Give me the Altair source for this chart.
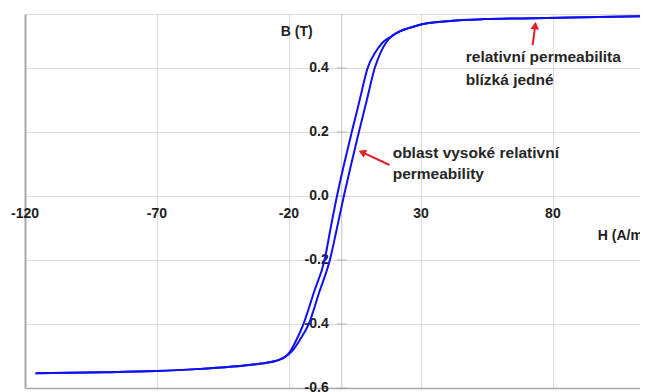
import altair as alt
import pandas as pd

# Hysteresis loop: descending (upper/left) branch and ascending (lower/right) branch
H_desc = [-116, -90, -70.5, -55, -41.3, -35, -28.4, -24, -21.5, -19.5, -17.2, -14.5, -10.5, -6.5,
          -4.2, -1.8, 0.9, 3.8, 6.8, 9.8, 12.8, 15.5, 19, 22, 25, 29, 41, 54, 73, 92, 116]
B_desc = [-0.554, -0.551, -0.547, -0.541, -0.533, -0.528, -0.521, -0.513, -0.503, -0.485, -0.45, -0.40,
          -0.30, -0.20, -0.10, 0.0, 0.10, 0.20, 0.30, 0.40, 0.45, 0.48, 0.50, 0.515, 0.524, 0.534,
          0.547, 0.553, 0.556, 0.559, 0.5625]
H_asc = [-116, -90, -70.5, -55, -41.3, -35, -28.4, -24, -21.5, -18.8, -15.9, -12.5, -8.5, -4.5,
         -1.8, 0.8, 3.6, 6.5, 9.5, 12.5, 14.8, 16.8, 19, 22, 25, 29, 41, 54, 73, 92, 116]
B_asc = [-0.554, -0.551, -0.547, -0.541, -0.533, -0.528, -0.521, -0.513, -0.503, -0.485, -0.45, -0.40,
         -0.30, -0.20, -0.10, 0.0, 0.10, 0.20, 0.30, 0.40, 0.45, 0.48, 0.50, 0.515, 0.524, 0.534,
         0.547, 0.553, 0.556, 0.559, 0.5625]

x_ticks = [-120, -70, -20, 30, 80]
y_ticks = [-0.6, -0.4, -0.2, 0.0, 0.2, 0.4]
y_labels = ["-0.6", "-0.4", "-0.2", "0.0", "0.2", "0.4"]

x_domain = [-120, 113]
y_domain = [-0.6, 0.569]

# annotations
note_text = ["relativní permeabilita", "blízká jedné", "oblast vysoké relativní", "permeability"]
note_H = [47.0, 47.0, 19.3, 19.3]
note_B = [0.434, 0.3625, 0.134, 0.069]

arrow_H = [72.3, 18.1]
arrow_B = [0.472, 0.097]
arrow_H2 = [73.3, 7.7]
arrow_B2 = [0.533, 0.137]
arrow_angle = [7, 295]

FONT = "Liberation Sans"
TXT = "#1e1e1e"

curve = pd.DataFrame({
    "H": H_desc + H_asc,
    "B": B_desc + B_asc,
    "branch": ["desc"] * len(H_desc) + ["asc"] * len(H_asc),
})
xs = alt.Scale(domain=x_domain, nice=False, zero=False)
ys = alt.Scale(domain=y_domain, nice=False, zero=False)

grid = alt.Chart(curve).mark_line(opacity=0).encode(
    x=alt.X("H:Q", scale=xs, axis=alt.Axis(values=x_ticks, grid=True, gridColor="#dddddd",
                                           labels=False, ticks=False, title=None,
                                           domainColor="#a8a8a8", domainWidth=1.5)),
    y=alt.Y("B:Q", scale=ys, axis=alt.Axis(values=y_ticks, grid=True, gridColor="#dddddd",
                                           labels=False, ticks=False, title=None,
                                           domainColor="#a8a8a8", domainWidth=2)),
    detail="branch:N",
)

yaxis_line = alt.Chart(pd.DataFrame({"H": [0]})).mark_rule(color="#c4c4c4", strokeWidth=1).encode(
    x=alt.X("H:Q", scale=xs)
)

ytick_df = pd.DataFrame({"H": [0] * len(y_ticks), "B": y_ticks, "label": y_labels})
yticks = alt.Chart(ytick_df).mark_tick(orient="horizontal", size=10, color="#a0a0a0", thickness=1).encode(
    x=alt.X("H:Q", scale=xs), y=alt.Y("B:Q", scale=ys)
)
ylab = alt.Chart(ytick_df).mark_text(align="right", baseline="middle", dx=-13, font=FONT,
                                     fontWeight="bold", fontSize=14, color=TXT).encode(
    x=alt.X("H:Q", scale=xs), y=alt.Y("B:Q", scale=ys), text="label:N"
)

xtick_df = pd.DataFrame({"H": x_ticks, "B": [0.0] * len(x_ticks), "label": [str(v) for v in x_ticks]})
xlab = alt.Chart(xtick_df).mark_text(align="center", baseline="middle", dy=18, font=FONT,
                                     fontWeight="bold", fontSize=14, color=TXT).encode(
    x=alt.X("H:Q", scale=xs), y=alt.Y("B:Q", scale=ys), text="label:N"
)

titles_df = pd.DataFrame({"H": [-11.0, 97.0], "B": [0.5125, -0.125], "label": ["B (T)", "H (A/m)"]})
ttl_b = alt.Chart(titles_df.iloc[[0]]).mark_text(align="right", baseline="middle", font=FONT,
                                                 fontWeight="bold", fontSize=14, color=TXT).encode(
    x=alt.X("H:Q", scale=xs), y=alt.Y("B:Q", scale=ys), text="label:N"
)
ttl_h = alt.Chart(titles_df.iloc[[1]]).mark_text(align="left", baseline="middle", font=FONT,
                                                 fontWeight="bold", fontSize=14, color=TXT).encode(
    x=alt.X("H:Q", scale=xs), y=alt.Y("B:Q", scale=ys), text="label:N"
)

notes = alt.Chart(pd.DataFrame({"H": note_H, "B": note_B, "t": note_text})).mark_text(
    align="left", baseline="middle", font=FONT, fontWeight="bold", fontSize=15.5, color="#262626"
).encode(x=alt.X("H:Q", scale=xs), y=alt.Y("B:Q", scale=ys), text="t:N")

arr_df = pd.DataFrame({"H": arrow_H, "B": arrow_B, "H2": arrow_H2, "B2": arrow_B2, "ang": arrow_angle})
shafts = alt.Chart(arr_df).mark_rule(color="#e3202a", strokeWidth=2).encode(
    x=alt.X("H:Q", scale=xs), y=alt.Y("B:Q", scale=ys), x2="H2:Q", y2="B2:Q"
)
heads = alt.Chart(arr_df).mark_point(shape="triangle-up", filled=True, size=75, color="#e3202a",
                                     opacity=1).encode(
    x=alt.X("H2:Q", scale=xs), y=alt.Y("B2:Q", scale=ys), angle=alt.Angle("ang:Q", scale=None)
)

line = alt.Chart(curve).mark_line(color="#1010f0", strokeWidth=2, interpolate="monotone", clip=True).encode(
    x=alt.X("H:Q", scale=xs), y=alt.Y("B:Q", scale=ys), detail="branch:N"
)

chart = alt.layer(grid, yaxis_line, yticks, ylab, xlab, ttl_b, ttl_h, notes, shafts, heads, line).properties(
    width=615, height=374,
    autosize=alt.AutoSizeParams(type="none"),
    padding={"left": 17, "top": 6, "right": 0, "bottom": 4},
).configure_view(strokeWidth=0).configure(background="white")

chart.save("out.html", embed_options={"renderer": "svg", "actions": False})
